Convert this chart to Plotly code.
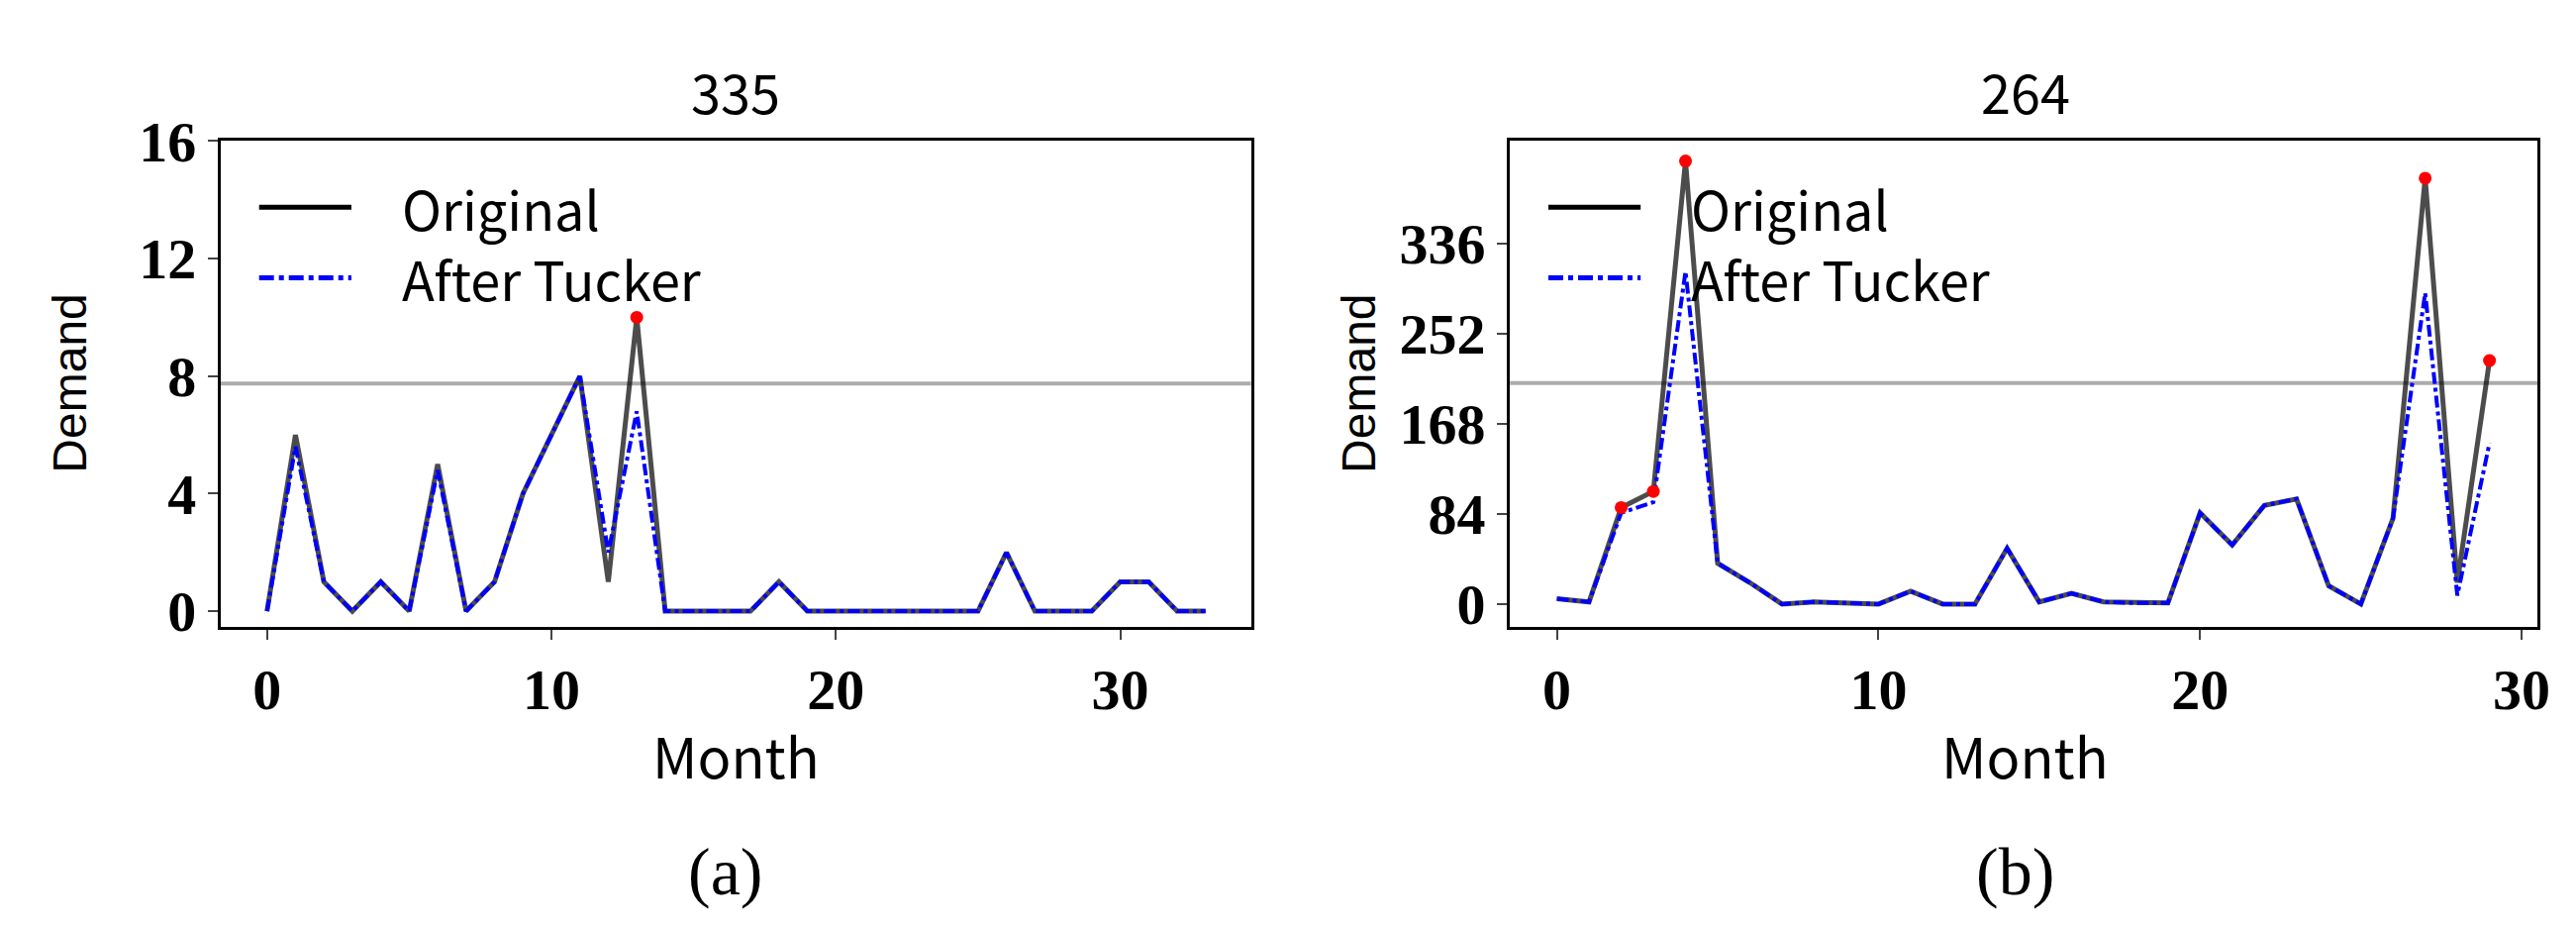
import plotly.graph_objects as go

months_a = list(range(34))
orig_a = [0,6,1,0,1,0,5,0,1,4,6,8,1,10,0,0,0,0,1,0,0,0,0,0,0,0,2,0,0,0,1,1,0,0]
tuck_a = [0,5.6,1,0,1,0,4.8,0,1,4,6,8,2,6.8,0,0,0,0,1,0,0,0,0,0,0,0,2,0,0,0,1,1,0,0]
thr_a = 7.75
peak_a = [13]

months_b = list(range(30))
orig_b = [5,2,90,105,413,38,20,0,2,1,0,12,0,0,52,2,10,2,1,1,85,55,92,98,17,0,80,397,20,227]
tuck_b = [5,2,85,95,310,38,20,0,2,1,0,12,0,0,52,2,10,2,1,1,85,55,92,98,17,0,80,290,8,150]
thr_b = 206
peak_b = [2,3,4,27,29]

titles = ["335", "264"]
captions = ["(a)", "(b)"]

fig = go.Figure()
sans = "Noto Sans CJK SC"
serif = "Liberation Serif"

def add(months, orig, tuck, peaks, xa, ya):
    fig.add_trace(go.Scatter(x=months, y=orig, mode="lines", name="Original",
        line=dict(color="rgba(0,0,0,0.7)", width=5), xaxis=xa, yaxis=ya))
    fig.add_trace(go.Scatter(x=months, y=tuck, mode="lines", name="After Tucker",
        line=dict(color="blue", width=4, dash="dashdot"), xaxis=xa, yaxis=ya))
    fig.add_trace(go.Scatter(x=peaks, y=[orig[i] for i in peaks], mode="markers",
        marker=dict(color="red", size=13), xaxis=xa, yaxis=ya))

add(months_a, orig_a, tuck_a, peak_a, "x", "y")
add(months_b, orig_b, tuck_b, peak_b, "x2", "y2")

ax = dict(showline=True, linecolor="black", linewidth=3, mirror=True, ticks="outside",
          ticklen=10, tickwidth=2, showgrid=False, zeroline=False,
          tickfont=dict(family=serif, size=58, color="black", weight="bold"))
fig.update_layout(
    width=2602, height=939, paper_bgcolor="white", plot_bgcolor="white",
    margin=dict(l=0, r=0, t=0, b=0), showlegend=False,
    xaxis=dict(ax, domain=[0.083, 0.485], range=[-1.63, 34.6], tickvals=[0,10,20,30], anchor="y"),
    yaxis=dict(ax, domain=[0.334, 0.885], range=[-0.55, 16], tickvals=[0,4,8,12,16], anchor="x"),
    xaxis2=dict(ax, domain=[0.586, 0.987], range=[-1.46, 30.5], tickvals=[0,10,20,30], anchor="y2"),
    yaxis2=dict(ax, domain=[0.334, 0.885], range=[-21.7, 431.6], tickvals=[0,84,168,252,336], anchor="x2"),
)

ann = []
for cx, t, c in [(0.284, titles[0], captions[0]), (0.787, titles[1], captions[1])]:
    ann.append(dict(x=cx, y=0.942, text=t, font=dict(family=sans, size=54, color="black")))
    ann.append(dict(x=cx, y=0.19, text="Month", font=dict(family=sans, size=56, color="black")))
    ann.append(dict(x=cx-0.004, y=0.057, text=c, font=dict(family=serif, size=68, color="black")))
for lx in [0.024, 0.527]:
    ann.append(dict(x=lx, y=0.61, text="Demand", textangle=-90,
                    font=dict(family="Liberation Sans", size=48, color="black")))
for x0 in [0.098, 0.601]:
    ann.append(dict(x=x0+0.055, y=0.81, text="Original", xanchor="left",
                    font=dict(family=sans, size=54, color="black")))
    ann.append(dict(x=x0+0.055, y=0.73, text="After Tucker", xanchor="left",
                    font=dict(family=sans, size=54, color="black")))
for a in ann:
    a.update(xref="paper", yref="paper", showarrow=False)
    a.setdefault("xanchor", "center")
    a["yanchor"] = "middle"
fig.update_layout(annotations=ann)

shapes = []
for xr, yr, thr in [("x domain", "y", thr_a), ("x2 domain", "y2", thr_b)]:
    shapes.append(dict(type="line", xref=xr, yref=yr, x0=0, x1=1, y0=thr, y1=thr,
                       line=dict(color="rgba(128,128,128,0.65)", width=4), layer="below"))
for x0 in [0.098, 0.601]:
    shapes.append(dict(type="line", xref="paper", yref="paper", x0=x0, x1=x0+0.036, y0=0.81, y1=0.81,
                       line=dict(color="black", width=5)))
    shapes.append(dict(type="line", xref="paper", yref="paper", x0=x0, x1=x0+0.036, y0=0.73, y1=0.73,
                       line=dict(color="blue", width=5, dash="dashdot")))
fig.update_layout(shapes=shapes)

fig.write_html("out.html")
